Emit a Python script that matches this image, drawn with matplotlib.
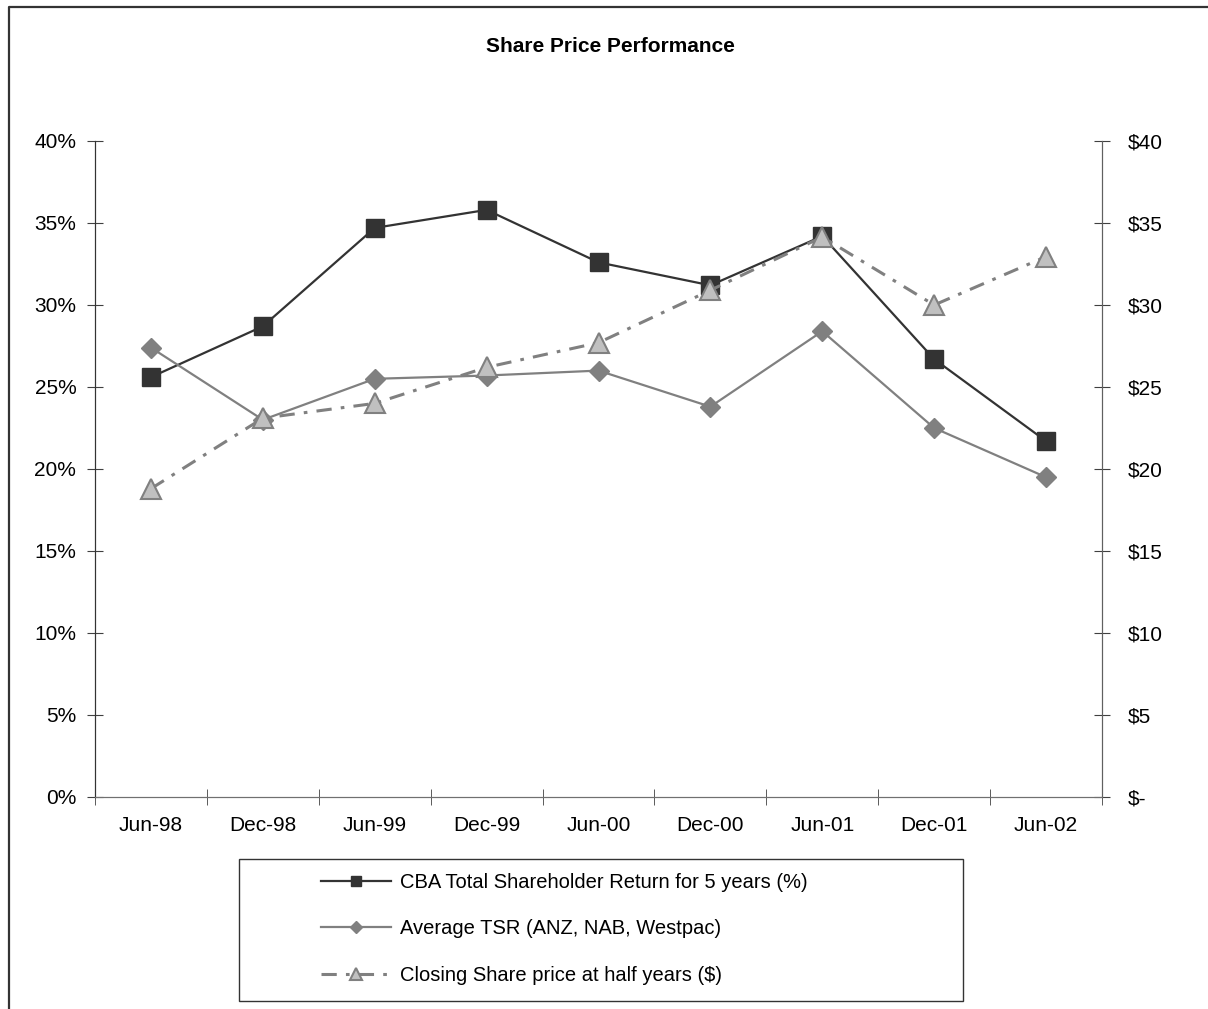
import matplotlib.pyplot as plt
from matplotlib.lines import Line2D
from matplotlib.patches import Rectangle

plt.rcParams["font.family"] = ["Liberation Sans", "DejaVu Sans"]

periods = ["Jun-98", "Dec-98", "Jun-99", "Dec-99", "Jun-00",
           "Dec-00", "Jun-01", "Dec-01", "Jun-02"]
cba_tsr = [25.6, 28.7, 34.7, 35.8, 32.6, 31.2, 34.2, 26.7, 21.7]
avg_tsr = [27.4, 23.0, 25.5, 25.7, 26.0, 23.8, 28.4, 22.5, 19.5]
share_price = [18.8, 23.1, 24.0, 26.2, 27.7, 30.9, 34.15, 30.0, 32.95]

left_ticks = [0, 5, 10, 15, 20, 25, 30, 35, 40]
left_labels = [f"{v}%" for v in left_ticks]
right_labels = ["$-"] + [f"${v}" for v in left_ticks[1:]]

W, H = 1208, 1009
fig = plt.figure(figsize=(W / 100, H / 100), dpi=100)
ax = fig.add_axes([95 / W, 1 - 797 / H, (1102 - 95) / W, (797 - 141) / H])
ax2 = ax.twinx()

x = list(range(len(periods)))
ax.plot(x, cba_tsr, color="#333333", lw=1.6, marker="s", ms=13.5,
        mfc="#333333", mec="#333333", label="CBA Total Shareholder Return for 5 years (%)")
ax.plot(x, avg_tsr, color="#808080", lw=1.6, marker="D", ms=10.5,
        mfc="#808080", mec="#808080", label="Average TSR (ANZ, NAB, Westpac)")
ax2.plot(x, share_price, color="#808080", lw=2.2, dashes=(5, 3, 1.2, 3),
         marker="^", ms=14.5, mfc="#c0c0c0", mec="#808080", mew=1.5,
         label="Closing Share price at half years ($)")

ax.set_xlim(-0.5, len(periods) - 0.5)
ax.set_ylim(0, 40)
ax2.set_ylim(0, 40)

ax.set_xticks(x)
ax.set_xticklabels(periods, fontsize=15)
ax.set_xticks([i - 0.5 for i in range(len(periods) + 1)], minor=True)
ax.tick_params(axis="x", which="major", length=0, pad=14)
ax.tick_params(axis="x", which="minor", direction="inout", length=11, color="#404040")

ax.set_yticks(left_ticks)
ax.set_yticklabels(left_labels, fontsize=15)
ax.tick_params(axis="y", direction="inout", length=11, pad=8, color="#404040")
ax2.set_yticks(left_ticks)
ax2.set_yticklabels(right_labels, fontsize=15)
ax2.tick_params(axis="y", direction="inout", length=11, pad=13, color="#404040")

for a in (ax, ax2):
    a.spines["top"].set_visible(False)
    a.spines["left"].set_color("#333333")
    a.spines["bottom"].set_color("#707070")
    a.spines["right"].set_color("#606060")
    a.patch.set_visible(False)

fig.text(610 / W, 1 - 46 / H, "Share Price Performance", fontsize=15,
         fontweight="bold", ha="center", va="center")

# legend box drawn by hand, entries placed inside it
fig.patches.append(Rectangle((239 / W, 1 - 1001 / H), (963 - 239) / W, (1001 - 859) / H,
                             transform=fig.transFigure, fill=False, ec="#333333", lw=1.0))
handles = ax.get_lines() + ax2.get_lines()
fig.legend(handles, [h.get_label() for h in handles], loc="center left",
           bbox_to_anchor=(321 / W, 1 - 929 / H), frameon=False, fontsize=14.5,
           handlelength=3.5, handletextpad=0.4, labelspacing=1.35,
           markerscale=0.55, borderpad=0, borderaxespad=0)

# outer chart border (top and left visible)
fig.add_artist(Line2D([9 / W, 9 / W, 1.0], [0.0, 1 - 7 / H, 1 - 7 / H],
                      transform=fig.transFigure, color="#333333", lw=1.6))

fig.savefig("out.png", dpi=100)
